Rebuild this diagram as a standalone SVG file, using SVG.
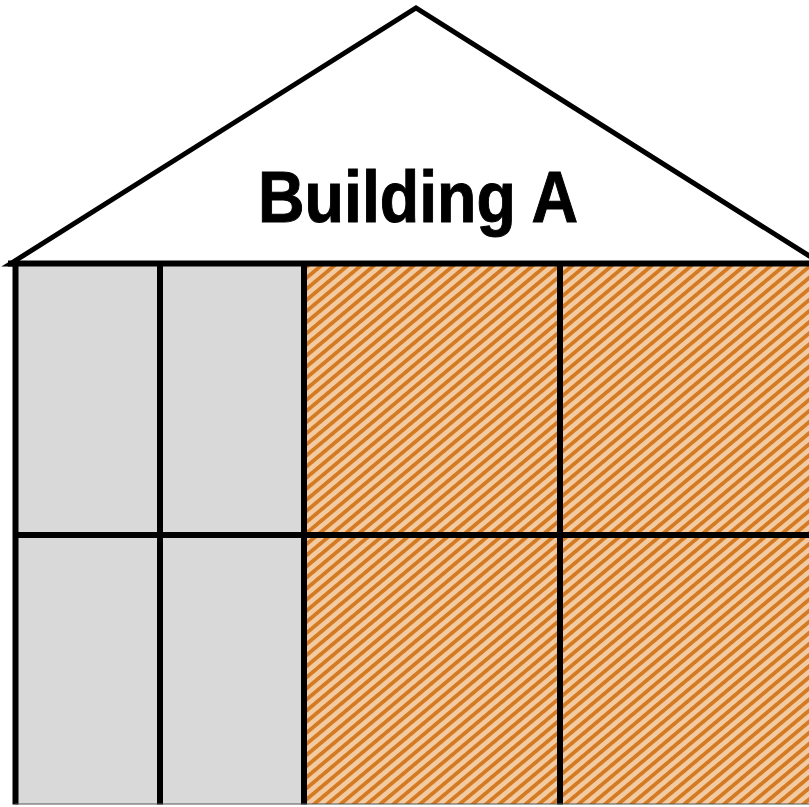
<svg xmlns="http://www.w3.org/2000/svg" width="809" height="807" viewBox="0 0 809 807">
  <style>
    .ln { stroke: #000; stroke-width: 6; fill: none; }
    .gray { fill: #D9D9D9; }
    .hatch { fill: url(#hatch); }
    .title { font-family: "Liberation Sans", Arial, sans-serif; font-weight: bold; font-size: 72px; fill: #000; }
  </style>
  <defs>
    <pattern id="hatch" patternUnits="userSpaceOnUse" width="20" height="8.5" patternTransform="rotate(-40)">
      <rect width="20" height="8.5" fill="#F2CBA3"/>
      <rect width="20" height="3.8" fill="#D47A22"/>
    </pattern>
  </defs>
  <rect width="809" height="807" fill="#FFFFFF"/>
  <g id="roof">
    <polygon points="10,264 416,8 822,264" fill="#FFFFFF" stroke="#000" stroke-width="5" stroke-linejoin="miter"/>
    <text class="title" x="258" y="222" textLength="320" lengthAdjust="spacingAndGlyphs" stroke="#000" stroke-width="1">Building A</text>
  </g>
  <g id="body">
    <rect id="cell-gray" class="gray" x="15" y="263" width="289" height="541"/>
    <rect id="cell-orange" class="hatch" x="304" y="263" width="510" height="541"/>
  </g>
  <g id="lines">
    <line class="ln" x1="8" y1="263.5" x2="815" y2="263.5"/>
    <line class="ln" x1="15.5" y1="263" x2="15.5" y2="804.5"/>
    <line class="ln" x1="160" y1="263" x2="160" y2="804.5"/>
    <line class="ln" x1="304" y1="263" x2="304" y2="804.5"/>
    <line class="ln" x1="560" y1="263" x2="560" y2="804.5"/>
    <line class="ln" x1="15" y1="535" x2="815" y2="535"/>
    <line x1="15" y1="804" x2="809" y2="804" stroke="#555" stroke-width="1"/>
  </g>
</svg>
